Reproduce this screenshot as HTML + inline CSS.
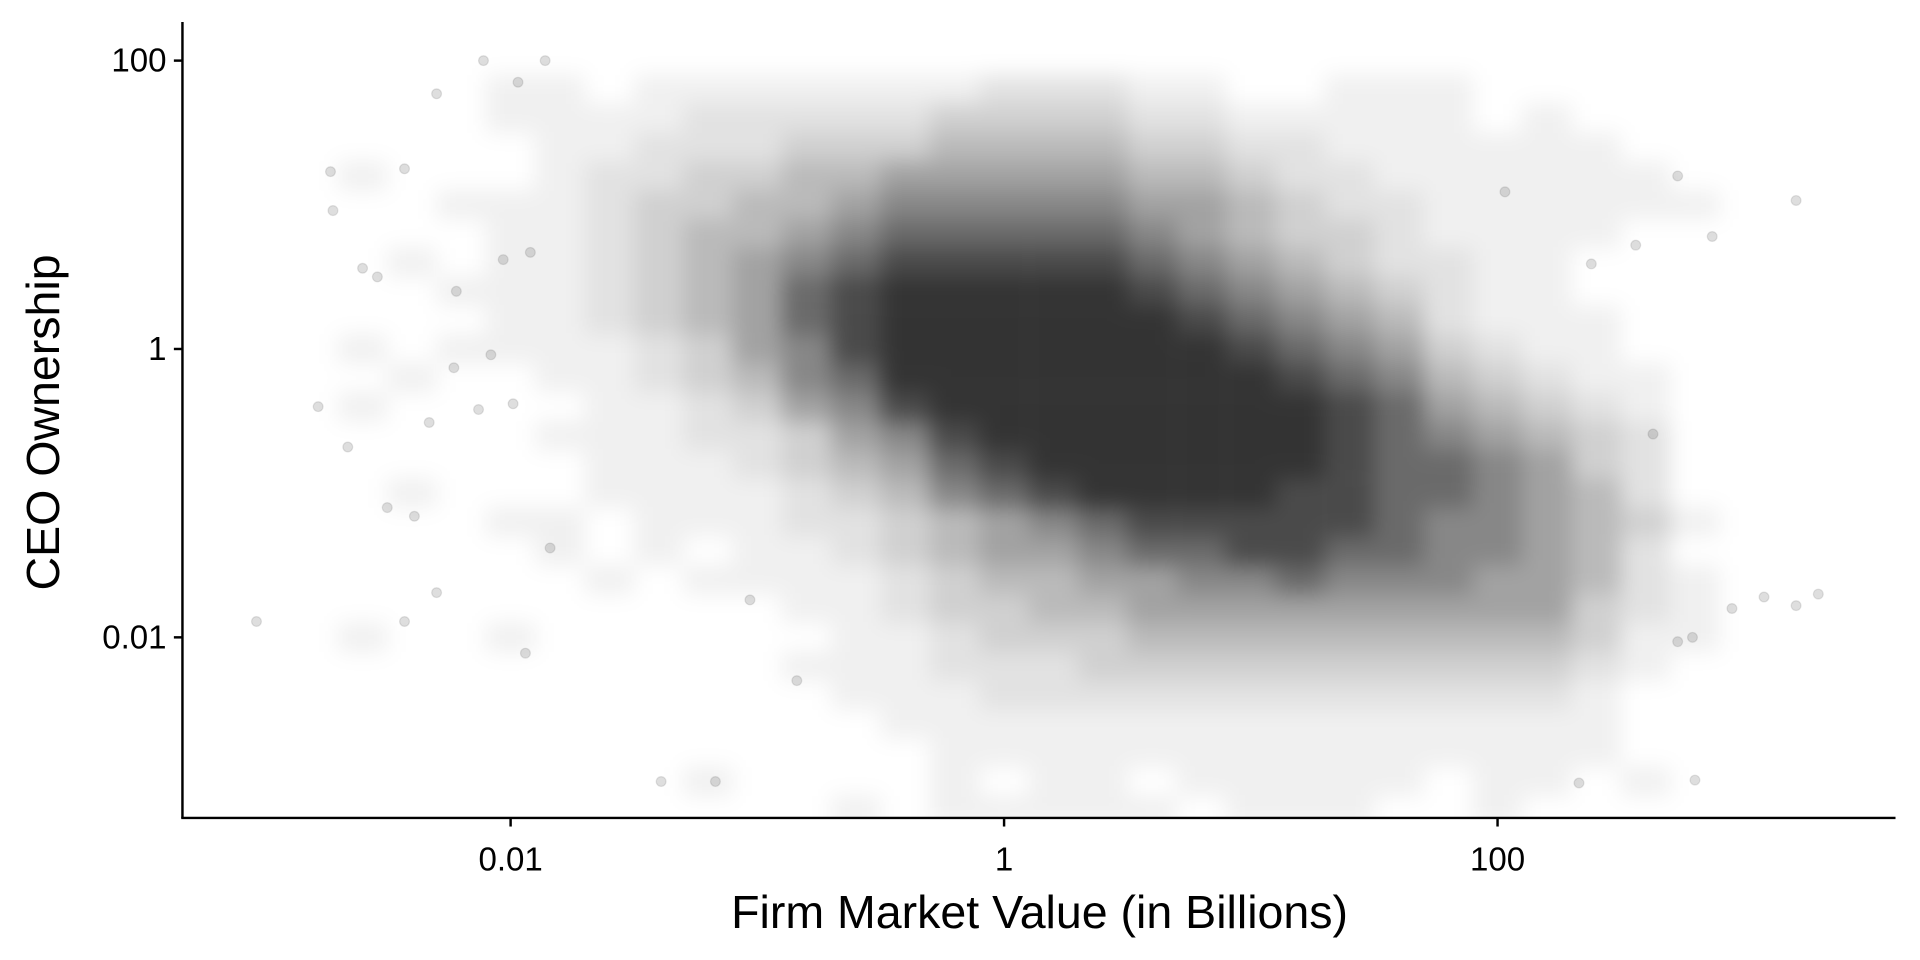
<!DOCTYPE html>
<html><head><meta charset="utf-8"><style>
html,body{margin:0;padding:0;background:#fff;}
svg{display:block;}
text{font-family:"Liberation Sans",sans-serif;fill:#000;}
</style></head><body>
<svg id="chart" width="1920" height="960" viewBox="0 0 1568 784" preserveAspectRatio="none" xmlns="http://www.w3.org/2000/svg">
<defs>
<filter id="blur" x="-10%" y="-10%" width="120%" height="120%"><feGaussianBlur stdDeviation="9"/></filter>
<clipPath id="plotclip"><rect x="149" y="18" width="1400" height="650"/></clipPath>
</defs>
<g id="density" clip-path="url(#plotclip)"><g id="densityInner" filter="url(#blur)"></g></g>
<g id="points" clip-path="url(#plotclip)"></g>
<g id="axes"></g>
</svg>
<script>
// Binned density of observations (log10 grid), rows top to bottom
const gridLogX0 = -2.6, gridLogXStep = 0.2;
const gridLogY0 = 1.8, gridLogYStep = -0.2;
const densityRows = [
"0001101111111222110011100000",
"0001111222223333221111101000",
"0000112223334444332211111100",
"1000122334455555443221111110",
"0011123344566666554322111111",
"0001123445677777654332111100",
"0101123456788888765432211000",
"0011123457899999876543211000",
"0001123457899999987654211100",
"1011112356899999998765321100",
"0100112346799999999876432110",
"1000011235689999999987543210",
"0000111223568999999987654320",
"0000011123457899999987765320",
"0100011112346789999887765420",
"0001101112234567888887665431",
"0000101011234556778877665420",
"0000010111123445566766655421",
"0000000001123344555555555321",
"1001000000112333444444444311",
"0000000001112223333333333210",
"0000000000111222222222222100",
"0000000000011111111111111100",
"0000000000001111111111111100",
"0000000100001011011111011010",
"0000000000101111101110010000"
];
// Individual sparse observations (log10 market value, log10 ownership)
const outlierLogX = [-3.03,-2.78,-2.73,-2.72,-2.66,-2.6,-2.54,-2.5,-2.43,-2.43,-2.39,-2.3,-2.3,-2.11,-1.86,-1.94,-1.97,3.3,3.21,3.21,3.08,2.95,2.87,2.79,2.73,2.8,2.73,2.63,2.56,2.38,2.33,2.03,-0.84,-1.03,-1.39,-1.17,-1.84,-2.33,-2.23,-2.08,-2.03,-1.92,-2.22,-2.13,-1.99];
const outlierLogY = [-1.89,-0.4,1.23,0.96,-0.68,0.56,0.5,-1.1,-1.89,1.25,-1.16,-1.69,1.77,2.0,2.0,-2.11,1.85,-1.7,-1.78,1.03,-1.72,-1.8,0.78,-2.0,-2.03,-2.99,1.2,-0.59,0.72,0.59,-3.01,1.09,-2.3,-1.74,-3.0,-3.0,-1.38,-0.51,-0.13,-0.04,0.62,0.67,0.4,-0.42,-0.38];
const xTickValues = [0.01, 1, 100];
const xTickLabels = ["0.01", "1", "100"];
const yTickValues = [0.01, 1, 100];
const yTickLabels = ["0.01", "1", "100"];

const NS = "http://www.w3.org/2000/svg";
function xScale(v){ return 820 + 201.5 * Math.log10(v); }
function yScale(v){ return 285 - 117.75 * Math.log10(v); }
function mk(tag, attrs, parent){ const e=document.createElementNS(NS,tag); for(const k in attrs) e.setAttribute(k,attrs[k]); parent.appendChild(e); return e; }

const dens = document.getElementById('densityInner');
densityRows.forEach((row, j) => {
  for (let i = 0; i < row.length; i++) {
    const lvl = +row[i];
    if (!lvl) continue;
    const lx = gridLogX0 + i * gridLogXStep, ly = gridLogY0 + j * gridLogYStep;
    const x0 = xScale(Math.pow(10, lx - 0.1)), x1 = xScale(Math.pow(10, lx + 0.1));
    const y0 = yScale(Math.pow(10, ly + 0.1)), y1 = yScale(Math.pow(10, ly - 0.1));
    const op = Math.min(0.8, Math.pow(lvl, 1.5) * 0.03 + 0.03);
    const r = mk('rect', {x:x0, y:y0, width:x1-x0, height:y1-y0, fill:'#000', 'fill-opacity':op}, dens);
    
    
  }
});
const pts = document.getElementById('points');
outlierLogX.forEach((lx, k) => {
  const c = mk('circle', {cx:xScale(Math.pow(10,lx)), cy:yScale(Math.pow(10,outlierLogY[k])), r:4, fill:'#000', 'fill-opacity':0.13, stroke:'#000', 'stroke-opacity':0.1}, pts);
  
  
});

const ax = document.getElementById('axes');
const yl = mk('line', {x1:149, y1:18, x2:149, y2:668, stroke:'#000', 'stroke-width':2}, ax);


const xl = mk('line', {x1:148, y1:668, x2:1548, y2:668, stroke:'#000', 'stroke-width':2}, ax);


xTickValues.forEach((v, k) => {
  const x = xScale(v);
  const t = mk('line', {x1:x, y1:668, x2:x, y2:675, stroke:'#000', 'stroke-width':2}, ax);
  
  
  const l = mk('text', {x:x, y:711, 'font-size':27, 'text-anchor':'middle'}, ax);
  l.textContent = xTickLabels[k];
  
  
});
yTickValues.forEach((v, k) => {
  const y = yScale(v);
  const t = mk('line', {x1:142, y1:y, x2:149, y2:y, stroke:'#000', 'stroke-width':2}, ax);
  
  
  const l = mk('text', {x:136, y:y+9, 'font-size':27, 'text-anchor':'end'}, ax);
  l.textContent = yTickLabels[k];
  
  
});
const xt = mk('text', {x:849, y:758, 'font-size':38, 'text-anchor':'middle'}, ax);
xt.textContent = 'Firm Market Value (in Billions)';


const ytt = mk('text', {x:0, y:0, 'font-size':38, 'text-anchor':'middle', transform:'translate(48,345) rotate(-90)'}, ax);
ytt.textContent = 'CEO Ownership';


</script>
</body></html>
